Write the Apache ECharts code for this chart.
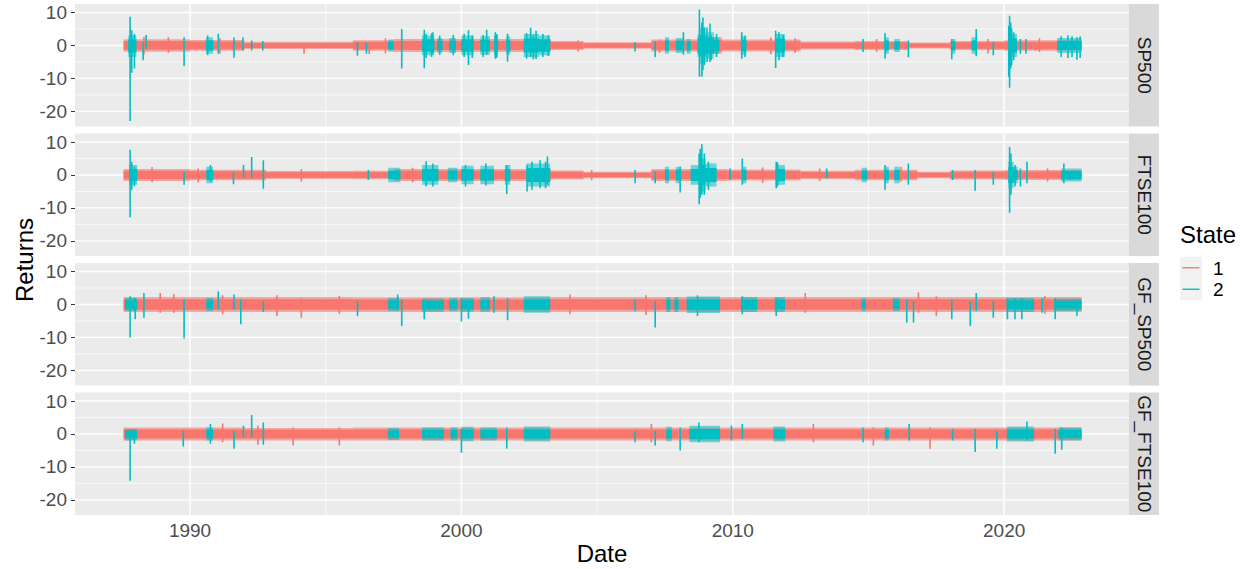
<!DOCTYPE html>
<html><head><meta charset="utf-8">
<script src="https://cdn.jsdelivr.net/npm/echarts@6/dist/echarts.min.js"></script>
<style>html,body{margin:0;padding:0;background:#fff}#chart{width:1253px;height:569px}</style>
</head><body><div id="chart"></div>
<script>
// ---------------- data ----------------
const panelNames = ['SP500', 'FTSE100', 'GF_SP500', 'GF_FTSE100'];
const xTicks = [1990, 2000, 2010, 2020];
const xMinorTicks = [1995, 2005, 2015];
const yTicks = [-20, -10, 0, 10];
const yMinorTicks = [-15, -5, 5];
const stateLabels = ['1', '2'];
const stateColors = ['#F8766D', '#00BFC4'];

// band = [start, end, low, high] (typical daily range), spike = [date, low, high]
const sp500_band1 = [
  [1987.55, 1990.0, -1.9, 1.9], [1990.0, 1992.0, -1.6, 1.7], [1992.0, 1996.0, -1.1, 1.1],
  [1996.0, 1997.5, -1.6, 1.6], [1997.5, 2003.3, -2.0, 2.0], [2003.3, 2004.5, -1.4, 1.4],
  [2004.5, 2007.0, -1.0, 1.0], [2007.0, 2008.7, -1.8, 1.8], [2008.7, 2009.6, -2.5, 2.5],
  [2009.6, 2012.5, -1.8, 1.8], [2012.5, 2014.5, -1.2, 1.2], [2014.5, 2016.5, -1.4, 1.4],
  [2016.5, 2018.0, -0.9, 0.9], [2018.0, 2020.0, -1.4, 1.4], [2020.0, 2022.85, -1.6, 1.6]
];
const sp500_spike1 = [
  [1988.3, -2.8, 2.6], [1989.2, -2.2, 2.5], [1991.1, -2.4, 2.2], [1994.2, -2.5, 0.5],
  [1996.6, -2.6, 1.0], [1997.2, -2.4, 2.2], [2004.3, -1.8, 1.6], [2007.3, -2.2, 1.8],
  [2011.4, -2.6, 2.4], [2012.3, -2.2, 2.2], [2015.3, -2.0, 2.0], [2019.4, -2.4, 2.0], [2021.3, -2.0, 2.2]
];
const sp500_band2 = [
  [1987.72, 1988.02, -3.5, 3.0], [1990.58, 1990.85, -2.5, 2.5], [1997.3, 1997.5, -1.8, 1.8],
  [1998.55, 1999.0, -3.0, 3.0], [1999.1, 1999.3, -2.2, 2.2], [1999.55, 1999.8, -2.3, 2.3],
  [2000.0, 2000.45, -3.0, 3.0], [2000.7, 2001.05, -2.8, 2.8], [2001.2, 2001.35, -3.0, 3.0],
  [2001.65, 2001.8, -2.8, 2.8], [2002.3, 2002.85, -3.5, 3.5], [2002.85, 2003.27, -3.0, 3.0],
  [2007.5, 2007.65, -2.5, 2.5], [2007.9, 2008.2, -2.3, 2.3], [2008.3, 2008.45, -2.5, 2.0],
  [2008.7, 2008.78, -3.5, 3.5], [2008.78, 2009.0, -5.5, 5.5], [2009.0, 2009.3, -4.0, 4.0],
  [2009.3, 2009.5, -2.5, 2.5], [2010.3, 2010.5, -2.8, 2.8], [2011.58, 2011.92, -3.5, 3.5],
  [2015.6, 2015.75, -2.5, 2.5], [2015.95, 2016.15, -2.0, 2.0], [2018.08, 2018.2, -2.5, 2.0],
  [2018.8, 2018.99, -2.5, 2.5], [2020.15, 2020.3, -6.0, 5.5], [2020.3, 2020.47, -3.5, 3.5],
  [2021.95, 2022.85, -2.3, 2.3]
];
const sp500_spike2 = [
  [1987.79, -22.9, 8.7], [1987.85, -8.3, 4.6], [1987.95, -7.0, 3.5], [1988.27, -4.5, 1.0],
  [1988.38, -1.0, 3.2], [1989.78, -6.2, 2.5], [1990.65, -3.0, 3.0], [1991.04, -2.5, 3.6],
  [1991.62, -3.7, 2.4], [1991.95, -1.5, 2.5], [1992.27, -1.5, 1.5], [1992.68, -1.5, 1.4],
  [1996.17, -3.1, 1.0], [1996.5, -2.5, 0.8], [1997.8, -7.0, 5.0], [1998.63, -6.9, 4.8],
  [1998.7, -3.8, 3.5], [1998.9, -3.5, 3.7], [1998.95, -2.5, 4.0], [1999.2, -2.8, 3.0],
  [1999.7, -3.0, 3.2], [2000.1, -3.5, 3.6], [2000.26, -5.9, 4.6], [2000.4, -3.8, 3.0],
  [2000.8, -3.5, 3.2], [2000.93, -2.8, 4.8], [2001.25, -4.0, 4.0], [2001.3, -3.7, 3.5],
  [2001.7, -4.9, 3.6], [2002.4, -4.0, 3.8], [2002.55, -3.5, 5.4], [2002.65, -4.2, 3.0],
  [2002.75, -4.1, 4.5], [2003.0, -3.5, 3.5], [2003.2, -3.2, 3.0],
  [2006.4, -1.8, 1.0], [2007.14, -3.5, 1.2], [2008.18, -2.8, 4.0], [2008.77, -9.5, 10.9],
  [2008.86, -9.5, 7.0], [2008.9, -7.5, 8.5], [2008.95, -6.0, 5.5], [2009.05, -5.0, 5.5],
  [2009.16, -5.0, 6.7], [2009.2, -4.5, 3.0], [2009.4, -3.5, 3.5], [2010.33, -4.0, 4.0],
  [2010.45, -3.5, 3.0], [2011.58, -6.8, 4.5], [2011.7, -4.5, 4.0], [2011.85, -3.5, 3.2],
  [2014.8, -2.0, 2.0], [2015.61, -4.0, 3.8], [2016.47, -3.6, 1.5], [2018.07, -4.2, 2.0],
  [2018.97, -3.3, 5.0], [2019.6, -3.0, 1.0], [2020.17, -9.5, 6.0], [2020.2, -12.8, 9.0],
  [2020.24, -7.0, 7.0], [2020.27, -6.0, 5.0], [2020.35, -4.5, 4.0], [2020.6, -2.5, 2.0],
  [2020.8, -2.5, 2.0], [2022.1, -3.5, 2.8], [2022.35, -3.8, 3.0], [2022.5, -3.5, 2.8],
  [2022.68, -4.3, 2.5], [2022.8, -3.8, 2.7]
];

const ftse100_band1 = [
  [1987.55, 1990.0, -1.8, 1.8], [1990.0, 1992.8, -1.6, 1.6], [1992.8, 1996.0, -1.2, 1.2],
  [1996.0, 1997.5, -1.3, 1.3], [1997.5, 2003.3, -1.8, 1.8], [2003.3, 2004.5, -1.4, 1.4],
  [2004.5, 2007.0, -1.0, 1.0], [2007.0, 2009.8, -1.8, 1.8], [2009.8, 2012.5, -1.7, 1.7],
  [2012.5, 2014.5, -1.3, 1.3], [2014.5, 2016.8, -1.6, 1.6], [2016.8, 2018.0, -1.0, 1.0],
  [2018.0, 2020.0, -1.4, 1.4], [2020.0, 2022.85, -1.5, 1.5]
];
const ftse100_spike1 = [
  [1988.6, -2.2, 2.4], [1990.3, -2.3, 2.0], [1994.1, -2.0, 1.8], [1998.2, -2.3, 2.2],
  [2004.8, -1.6, 1.5], [2011.1, -2.4, 2.3], [2013.2, -1.8, 2.0], [2016.2, -2.0, 2.4], [2021.6, -2.0, 2.0]
];
const ftse100_band2 = [
  [1987.75, 1988.05, -3.0, 3.0], [1990.6, 1990.85, -2.5, 2.5], [1997.3, 1997.75, -2.2, 2.2],
  [1998.55, 1999.15, -3.0, 3.0], [1999.5, 1999.85, -2.2, 2.2], [2000.0, 2000.45, -2.8, 2.8],
  [2000.7, 2001.2, -2.8, 2.8], [2001.6, 2001.8, -3.0, 3.0], [2002.4, 2003.27, -3.5, 3.5],
  [2007.5, 2007.65, -2.5, 2.5], [2007.9, 2008.1, -2.5, 2.5], [2008.45, 2008.75, -3.0, 3.0],
  [2008.75, 2009.0, -5.0, 5.0], [2009.0, 2009.4, -3.5, 3.5], [2010.35, 2010.5, -2.5, 2.5],
  [2011.58, 2011.92, -3.0, 3.0], [2014.75, 2014.95, -2.2, 2.2], [2015.6, 2015.75, -2.5, 2.5],
  [2015.95, 2016.15, -2.5, 2.5], [2020.15, 2020.35, -4.0, 4.0], [2020.35, 2020.5, -2.5, 2.5],
  [2022.1, 2022.85, -2.0, 2.0]
];
const ftse100_spike2 = [
  [1987.79, -12.8, 7.7], [1987.85, -4.5, 4.0], [1987.95, -3.5, 2.5], [1989.78, -3.0, 1.0],
  [1990.75, -2.0, 3.0], [1991.6, -2.8, 1.0], [1991.97, -1.0, 3.0], [1992.27, -1.0, 5.5],
  [1992.7, -4.2, 4.5], [1996.57, -1.5, 1.5], [1998.7, -3.5, 4.2], [1998.95, -3.5, 3.5],
  [2000.15, -3.5, 3.0], [2000.9, -3.2, 3.5], [2001.67, -5.8, 3.0], [2002.42, -5.0, 3.0],
  [2002.6, -4.5, 4.0], [2002.9, -4.0, 4.5], [2003.1, -4.0, 4.0], [2003.17, -3.0, 5.6],
  [2006.4, -2.5, 1.5], [2007.14, -2.5, 1.0], [2008.06, -5.3, 2.5], [2008.76, -8.9, 6.5],
  [2008.8, -7.0, 8.0], [2008.86, -6.0, 9.3], [2008.95, -6.0, 6.5], [2009.1, -4.5, 4.0],
  [2009.9, -1.5, 2.0], [2010.35, -3.0, 5.0], [2011.6, -4.0, 4.0], [2011.65, -3.5, 3.8],
  [2013.46, -1.0, 2.0], [2015.61, -4.5, 3.0], [2016.47, -3.0, 3.5], [2018.1, -1.5, 1.5],
  [2018.93, -4.8, 1.5], [2019.6, -3.0, 1.0], [2020.2, -11.5, 8.5], [2020.25, -6.0, 6.5],
  [2020.4, -3.5, 3.0], [2020.6, -3.5, 2.0], [2020.84, -2.5, 4.0], [2022.2, -2.5, 3.5]
];

const gfsp500_band1 = [
  [1987.55, 1996.0, -2.3, 2.3], [1996.0, 2003.3, -2.3, 2.2],
  [2003.3, 2008.0, -2.3, 2.3], [2008.0, 2022.85, -2.3, 2.3]
];
const gfsp500_spike1 = [
  [1988.9, -2.5, 3.5], [1989.4, -2.5, 3.2], [1991.2, -3.0, 2.8], [1993.2, -3.5, 2.8],
  [1994.1, -4.0, 2.0], [1995.5, -2.8, 2.6], [2004.0, -3.0, 3.0], [2006.8, -3.2, 2.8],
  [2012.67, -2.5, 3.5], [2016.84, -2.5, 3.7], [2017.5, -3.5, 2.5], [2021.5, -2.8, 2.6]
];
const gfsp500_band2 = [
  [1987.6, 1988.05, -2.0, 2.0], [1990.6, 1990.85, -2.0, 2.0], [1997.3, 1997.7, -2.0, 2.0],
  [1998.55, 1999.35, -2.2, 1.8], [1999.55, 1999.85, -2.0, 2.0], [2000.0, 2000.45, -2.2, 2.0],
  [2000.7, 2001.05, -2.2, 2.2], [2002.3, 2003.27, -2.5, 2.5], [2007.55, 2007.7, -2.3, 2.3],
  [2007.85, 2008.0, -2.3, 2.3], [2008.3, 2009.53, -2.6, 2.4], [2010.3, 2010.9, -2.3, 2.3],
  [2011.55, 2011.92, -2.3, 2.3], [2014.75, 2014.9, -2.0, 2.0], [2015.9, 2016.15, -2.0, 2.0],
  [2020.1, 2021.1, -2.3, 2.0], [2021.85, 2022.85, -2.0, 1.8]
];
const gfsp500_spike2 = [
  [1987.79, -10.0, 2.5], [1987.98, -4.5, 2.0], [1988.3, -4.0, 3.5], [1989.78, -10.3, 1.5],
  [1991.04, -1.5, 4.0], [1991.62, -1.5, 3.0], [1991.87, -6.0, 1.5], [1992.7, -2.2, 1.0],
  [1996.17, -3.5, 1.0], [1997.65, -1.5, 3.0], [1997.8, -6.5, 1.5], [1998.63, -4.5, 1.5],
  [2000.0, -5.2, 2.0], [2000.26, -4.3, 1.5], [2001.2, -2.5, 2.5], [2001.7, -4.8, 2.0],
  [2006.4, -2.0, 1.5], [2007.14, -7.0, 1.0], [2008.7, -3.5, 2.8], [2010.35, -3.0, 2.5],
  [2011.6, -3.5, 2.0], [2016.41, -5.5, 1.5], [2016.66, -5.5, 1.0], [2018.07, -4.5, 1.5],
  [2018.75, -6.5, 1.0], [2018.97, -2.0, 3.5], [2019.6, -4.0, 1.0], [2020.12, -4.5, 2.0],
  [2020.4, -4.5, 2.0], [2020.65, -4.5, 2.0], [2021.4, -2.5, 2.0], [2021.88, -4.5, 2.0],
  [2022.68, -3.5, 1.5]
];

const gfftse100_band1 = [
  [1987.55, 1992.0, -2.0, 2.0], [1992.0, 1996.0, -2.0, 1.8], [1996.0, 2003.3, -2.0, 2.0],
  [2003.3, 2008.0, -2.0, 2.0], [2008.0, 2022.85, -2.0, 2.0]
];
const gfftse100_spike1 = [
  [1991.2, -2.5, 3.2], [1992.5, -3.3, 2.5], [1993.8, -3.5, 2.0], [1995.5, -3.5, 2.0],
  [2007.0, -2.5, 3.0], [2012.97, -2.5, 3.0], [2015.18, -3.5, 2.0], [2017.27, -4.5, 2.0]
];
const gfftse100_band2 = [
  [1987.6, 1988.05, -2.0, 1.5], [1990.6, 1990.85, -2.0, 2.0], [1997.3, 1997.7, -1.8, 1.8],
  [1998.55, 1999.35, -2.0, 2.0], [1999.6, 1999.85, -2.0, 2.0], [2000.0, 2000.45, -2.2, 2.2],
  [2000.7, 2001.3, -2.0, 2.0], [2002.3, 2003.27, -2.3, 2.3], [2007.55, 2007.75, -2.2, 2.2],
  [2008.4, 2009.53, -2.5, 2.5], [2011.5, 2011.93, -2.3, 2.3], [2015.6, 2015.75, -2.0, 2.0],
  [2020.1, 2021.1, -2.3, 2.3], [2022.0, 2022.85, -2.0, 2.0]
];
const gfftse100_spike2 = [
  [1987.79, -14.2, 1.5], [1987.95, -3.0, 1.5], [1989.75, -3.8, 1.0], [1990.75, -3.0, 3.0],
  [1991.62, -4.5, 1.0], [1991.97, -1.0, 2.5], [1992.27, -1.0, 5.8], [1992.7, -3.3, 3.5],
  [2000.0, -5.7, 1.5], [2001.67, -4.5, 2.0], [2006.4, -2.5, 1.0], [2007.14, -3.5, 1.0],
  [2008.06, -5.0, 2.0], [2008.75, -2.5, 3.5], [2009.95, -2.0, 2.5], [2010.35, -1.5, 3.0],
  [2014.8, -2.5, 2.0], [2016.5, -2.0, 3.0], [2018.1, -2.0, 1.5], [2018.93, -5.5, 1.5],
  [2019.73, -4.5, 1.0], [2020.84, -2.0, 3.8], [2021.88, -6.0, 1.5], [2022.12, -4.8, 2.0]
];

// --------------- layout / build ---------------
const X_MIN = 1985.76, X_MAX = 2024.6, Y_MIN = -24.6, Y_MAX = 12.6;
const FONT = '"Liberation Sans", Arial, Helvetica, sans-serif';
const panelData = [
  [sp500_band1, sp500_spike1, sp500_band2, sp500_spike2],
  [ftse100_band1, ftse100_spike1, ftse100_band2, ftse100_spike2],
  [gfsp500_band1, gfsp500_spike1, gfsp500_band2, gfsp500_spike2],
  [gfftse100_band1, gfftse100_spike1, gfftse100_band2, gfftse100_spike2]
];
const PL = 75, PW = 1054, PH = 122.5;
const tops = [4, 133.5, 263, 392.5];

const gridLineData = [];
xTicks.forEach(v => gridLineData.push([v, 0]));
xMinorTicks.forEach(v => gridLineData.push([v, 1]));
yTicks.forEach(v => gridLineData.push([v, 2]));
yMinorTicks.forEach(v => gridLineData.push([v, 3]));

function gridRender(params, api) {
  const v = api.value(0), kind = api.value(1);
  let a, b;
  if (kind < 2) { a = api.coord([v, Y_MAX]); b = api.coord([v, Y_MIN]); }
  else { a = api.coord([X_MIN, v]); b = api.coord([X_MAX, v]); }
  return { type: 'line', silent: true,
    shape: { x1: a[0], y1: a[1], x2: b[0], y2: b[1] },
    style: { stroke: '#FFFFFF', lineWidth: kind % 2 === 0 ? 1.4 : 0.7 } };
}
// band: soft outer envelope + solid core (mimics a dense daily zig-zag line)
function bandRender(color, outerOpacity, coreFrac) {
  return function (params, api) {
    const x0 = api.value(0), x1 = api.value(1), lo = api.value(2), hi = api.value(3);
    const p0 = api.coord([x0, hi]), p1 = api.coord([x1, lo]);
    const c0 = api.coord([x0, hi * coreFrac]), c1 = api.coord([x1, lo * coreFrac]);
    const w = Math.max(p1[0] - p0[0], 1.5);
    return { type: 'group', children: [
      { type: 'rect', shape: { x: p0[0], y: p0[1], width: w, height: p1[1] - p0[1] },
        style: { fill: color, opacity: outerOpacity } },
      { type: 'rect', shape: { x: c0[0], y: c0[1], width: w, height: c1[1] - c0[1] },
        style: { fill: color } }
    ] };
  };
}
function spikeRender(color) {
  return function (params, api) {
    const a = api.coord([api.value(0), api.value(2)]);
    const b = api.coord([api.value(0), api.value(1)]);
    return { type: 'line',
      shape: { x1: a[0], y1: a[1], x2: b[0], y2: b[1] },
      style: { stroke: color, lineWidth: 1.6 } };
  };
}

const grids = [], xAxes = [], yAxes = [], series = [], graphics = [];
panelNames.forEach((name, i) => {
  grids.push({ left: PL, top: tops[i], width: PW, height: PH, show: true,
    backgroundColor: '#EBEBEB', borderWidth: 0, containLabel: false });
  const last = i === panelNames.length - 1;
  xAxes.push({ type: 'value', gridIndex: i, min: X_MIN, max: X_MAX,
    axisLine: { show: false }, splitLine: { show: false },
    axisTick: { show: last, customValues: xTicks, length: 4, lineStyle: { color: '#333333', width: 1 } },
    axisLabel: { show: last, customValues: xTicks, formatter: v => String(v),
      fontSize: 19, color: '#4D4D4D', fontFamily: FONT, margin: 6 } });
  yAxes.push({ type: 'value', gridIndex: i, min: Y_MIN, max: Y_MAX,
    axisLine: { show: false }, splitLine: { show: false },
    axisTick: { show: true, customValues: yTicks, length: 4, lineStyle: { color: '#333333', width: 1 } },
    axisLabel: { customValues: yTicks, formatter: v => String(v),
      fontSize: 19, color: '#4D4D4D', fontFamily: FONT, margin: 8 } });
  series.push({ type: 'custom', name: 'grid' + i, xAxisIndex: i, yAxisIndex: i,
    renderItem: gridRender, data: gridLineData, silent: true, z: 1 });
  const d = panelData[i];
  series.push({ type: 'custom', name: stateLabels[0], xAxisIndex: i, yAxisIndex: i, clip: true,
    renderItem: bandRender(stateColors[0], 0.6, 0.7), data: d[0], z: 2 });
  series.push({ type: 'custom', name: stateLabels[0], xAxisIndex: i, yAxisIndex: i, clip: true,
    renderItem: spikeRender(stateColors[0]), data: d[1], z: 2 });
  series.push({ type: 'custom', name: stateLabels[1], xAxisIndex: i, yAxisIndex: i, clip: true,
    renderItem: bandRender(stateColors[1], 0.55, 0.6), data: d[2], z: 3 });
  series.push({ type: 'custom', name: stateLabels[1], xAxisIndex: i, yAxisIndex: i, clip: true,
    renderItem: spikeRender(stateColors[1]), data: d[3], z: 3 });
  // strip
  graphics.push({ type: 'rect', left: PL + PW, top: tops[i], shape: { width: 30, height: PH },
    style: { fill: '#D9D9D9' }, silent: true });
  graphics.push({ type: 'text', x: PL + PW + 15, y: tops[i] + PH / 2, rotation: -Math.PI / 2,
    style: { text: name, fill: '#1A1A1A', font: '19px ' + FONT, textAlign: 'center', textVerticalAlign: 'middle' } });
});

// titles
graphics.push({ type: 'text', x: 24, y: 260, rotation: Math.PI / 2,
  style: { text: 'Returns', fill: '#000000', font: '24px ' + FONT, textAlign: 'center', textVerticalAlign: 'middle' } });
graphics.push({ type: 'text', x: PL + PW / 2, y: 553,
  style: { text: 'Date', fill: '#000000', font: '24px ' + FONT, textAlign: 'center', textVerticalAlign: 'middle' } });
// legend
graphics.push({ type: 'text', x: 1180, y: 234,
  style: { text: 'State', fill: '#000000', font: '24px ' + FONT, textAlign: 'left', textVerticalAlign: 'middle' } });
stateLabels.forEach((lab, k) => {
  const ky = 257 + k * 21.5;
  graphics.push({ type: 'rect', shape: { x: 1180, y: ky, width: 22, height: 21.5 }, style: { fill: '#F2F2F2' }, silent: true });
  graphics.push({ type: 'line', shape: { x1: 1182.5, y1: ky + 10.75, x2: 1199.5, y2: ky + 10.75 },
    style: { stroke: stateColors[k], lineWidth: 1.4 } });
  graphics.push({ type: 'text', x: 1213, y: ky + 11,
    style: { text: lab, fill: '#000000', font: '19px ' + FONT, textAlign: 'left', textVerticalAlign: 'middle' } });
});

const chart = echarts.init(document.getElementById('chart'), null, { renderer: 'svg', width: 1253, height: 569 });
chart.setOption({
  animation: false,
  backgroundColor: '#FFFFFF',
  textStyle: { fontFamily: FONT },
  grid: grids, xAxis: xAxes, yAxis: yAxes, series: series, graphic: graphics
});
</script></body></html>
